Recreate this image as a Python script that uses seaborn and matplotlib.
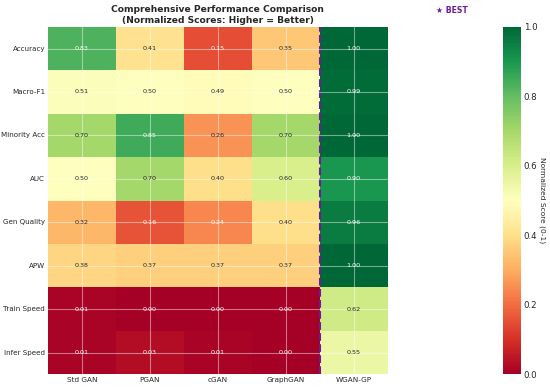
import matplotlib
matplotlib.use("Agg")
import matplotlib.pyplot as plt
import numpy as np
import pandas as pd
import seaborn as sns

models = ["Std GAN", "PGAN", "cGAN", "GraphGAN", "WGAN-GP"]
metrics = ["Accuracy", "Macro-F1", "Minority Acc", "AUC", "Gen Quality",
           "APW", "Train Speed", "Infer Speed"]

accuracy = [0.83, 0.41, 0.15, 0.35, 1.00]
macro_f1 = [0.51, 0.50, 0.49, 0.50, 0.99]
minority_acc = [0.70, 0.85, 0.26, 0.70, 1.00]
auc = [0.50, 0.70, 0.40, 0.60, 0.90]
gen_quality = [0.32, 0.16, 0.24, 0.40, 0.96]
apw = [0.38, 0.37, 0.37, 0.37, 1.00]
train_speed = [0.01, 0.00, 0.00, 0.00, 0.62]
infer_speed = [0.01, 0.03, 0.01, 0.00, 0.55]

best_model = "WGAN-GP"

df = pd.DataFrame([accuracy, macro_f1, minority_acc, auc, gen_quality,
                   apw, train_speed, infer_speed],
                  index=metrics, columns=models)

sns.set_style("whitegrid")
plt.rcParams['font.family'] = ['DejaVu Sans']

fig = plt.figure(figsize=(5.5, 3.89), dpi=100)
ax = fig.add_axes([0.087, 0.038, 0.618, 0.893])
cax = fig.add_axes([0.915, 0.038, 0.032, 0.893])

sns.heatmap(df, ax=ax, cbar_ax=cax, cmap="RdYlGn", vmin=0, vmax=1,
            annot=True, fmt=".2f", annot_kws={"fontsize": 4.6})

ax.set_axisbelow(False)
ax.grid(True, color="white", alpha=0.45, linewidth=0.8)
ax.tick_params(axis="both", labelsize=5.1, length=0, pad=2)
ax.set_yticklabels(ax.get_yticklabels(), rotation=0)
ax.set_xticklabels(ax.get_xticklabels(), rotation=0, fontsize=5.2)

# highlight the best model column
col = models.index(best_model)
ax.axvline(col, color="#6a1b9a", linestyle="--", linewidth=1.5)

ax.set_title("Comprehensive Performance Comparison\n(Normalized Scores: Higher = Better)",
             fontsize=6.6, fontweight="bold", pad=3)
fig.text(0.822, 0.972, "\u2605 BEST", color="#6a1b9a", fontsize=5.6,
         fontweight="bold", ha="center", va="center")

cax.tick_params(labelsize=6.2, length=0, pad=2)
cax.set_ylabel("Normalized Score (0-1)", fontsize=5.4, rotation=270, labelpad=6)

fig.savefig("out.png", dpi=100)
